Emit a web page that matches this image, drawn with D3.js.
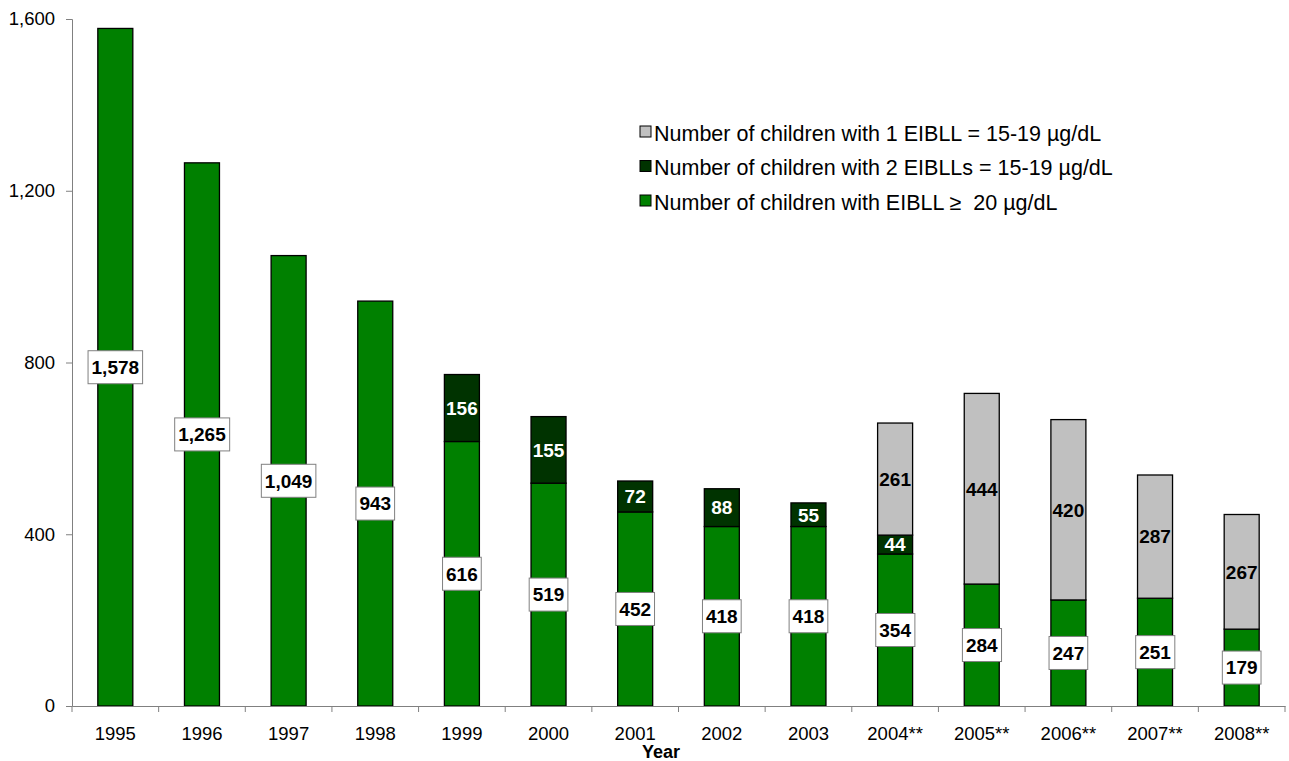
<!DOCTYPE html>
<html lang="en">
<head>
<meta charset="UTF-8">
<style>
  body { margin: 0; background: #fff; }
  svg { font-family: "Liberation Sans", Arial, sans-serif; }
</style>
<script src="https://d3js.org/d3.v7.min.js"></script>
</head>
<body>
<svg id="chart" width="1289" height="761"></svg>
<script>
// data
const years = ["1995", "1996", "1997", "1998", "1999", "2000", "2001", "2002", "2003",
  "2004**", "2005**", "2006**", "2007**", "2008**"];
const over20 = [1578, 1265, 1049, 943, 616, 519, 452, 418, 418, 354, 284, 247, 251, 179];
const twoElevated = [0, 0, 0, 0, 156, 155, 72, 88, 55, 44, 0, 0, 0, 0];
const oneElevated = [0, 0, 0, 0, 0, 0, 0, 0, 0, 261, 444, 420, 287, 267];
const yTicks = [0, 400, 800, 1200, 1600];

const seriesInfo = [
  { key: "over20", name: "Number of children with EIBLL \u2265  20 \u00b5g/dL", color: "#008000", text: "#000", boxed: true },
  { key: "two", name: "Number of children with 2 EIBLLs = 15-19 \u00b5g/dL", color: "#003300", text: "#fff", boxed: false },
  { key: "one", name: "Number of children with 1 EIBLL = 15-19 \u00b5g/dL", color: "#c0c0c0", text: "#000", boxed: false }
];

const rows = years.map((y, i) => ({ year: y, over20: over20[i], two: twoElevated[i], one: oneElevated[i] }));

const svg = d3.select("#chart");
const margin = { left: 72, right: 4, top: 19, bottom: 55 };
const W = 1289, H = 761;

const x = d3.scaleBand().domain(years).range([margin.left, W - margin.right]).paddingInner(0).paddingOuter(0);
const y = d3.scaleLinear().domain([0, 1600]).range([H - margin.bottom, margin.top]);
const barW = 35;

const stack = d3.stack().keys(seriesInfo.map(s => s.key));
const layers = stack(rows);

// bars
layers.forEach((layer, li) => {
  const s = seriesInfo[li];
  svg.append("g").selectAll("rect")
    .data(layer.filter(d => d[1] - d[0] > 0))
    .join("rect")
    .attr("x", d => x(d.data.year) + x.bandwidth() / 2 - barW / 2)
    .attr("y", d => y(d[1]))
    .attr("width", barW)
    .attr("height", d => y(d[0]) - y(d[1]))
    .attr("fill", s.color)
    .attr("stroke", "#000")
    .attr("stroke-width", 1.3);
});

// value labels (boxed for the bottom series)
layers.forEach((layer, li) => {
  const s = seriesInfo[li];
  const g = svg.append("g").selectAll("g")
    .data(layer.filter(d => d[1] - d[0] > 0))
    .join("g")
    .attr("transform", d => `translate(${x(d.data.year) + x.bandwidth() / 2},${y((d[0] + d[1]) / 2)})`);
  const txt = g.append("text")
    .attr("text-anchor", "middle")
    .attr("dy", "0.36em")
    .attr("font-size", 19)
    .attr("font-weight", "bold")
    .attr("fill", s.text)
    .text(d => d3.format(",")(d[1] - d[0]));
  if (s.boxed) {
    txt.each(function () {
      const b = this.getBBox();
      d3.select(this.parentNode).insert("rect", "text")
        .attr("x", b.x - 3.5)
        .attr("y", -16.5)
        .attr("width", b.width + 7)
        .attr("height", 33)
        .attr("fill", "#fff")
        .attr("stroke", "#808080")
        .attr("stroke-width", 1);
    });
  }
});

// axes
const yAxis = svg.append("g")
  .attr("transform", `translate(${margin.left},0)`)
  .call(d3.axisLeft(y).tickValues(yTicks).tickFormat(d3.format(",")).tickSize(6).tickPadding(11));
yAxis.selectAll("text").attr("font-size", 18.5).attr("fill", "#000").attr("font-family", "Liberation Sans, Arial, sans-serif");
yAxis.selectAll("line, path").attr("stroke", "#808080");

const xAxis = svg.append("g")
  .attr("transform", `translate(0,${y(0)})`)
  .call(d3.axisBottom(x).tickSize(0).tickPadding(20.5));
xAxis.selectAll("text").attr("font-size", 18.5).attr("fill", "#000").attr("font-family", "Liberation Sans, Arial, sans-serif");
xAxis.select("path").attr("stroke", "#808080");
// tick marks sit on the band edges
xAxis.append("g").selectAll("line")
  .data(years.concat(["end"]))
  .join("line")
  .attr("x1", (d, i) => margin.left + i * x.step())
  .attr("x2", (d, i) => margin.left + i * x.step())
  .attr("y1", 0).attr("y2", 6)
  .attr("stroke", "#808080");

svg.append("text")
  .attr("x", 661)
  .attr("y", 758)
  .attr("text-anchor", "middle")
  .attr("font-size", 18)
  .attr("font-weight", "bold")
  .text("Year");

// legend (gray on top)
const legend = svg.append("g").attr("transform", "translate(640,126)");
seriesInfo.slice().reverse().forEach((s, i) => {
  const g = legend.append("g").attr("transform", `translate(0,${i * 34.5})`);
  g.append("rect").attr("x", 0).attr("y", 0).attr("width", 11).attr("height", 11)
    .attr("fill", s.color).attr("stroke", "#000").attr("stroke-width", 1);
  g.append("text").attr("x", 14).attr("y", 7).attr("dy", "0.36em")
    .style("white-space", "pre")
    .attr("font-size", 21.5).attr("fill", "#000").text(s.name);
});
</script>
</body>
</html>
